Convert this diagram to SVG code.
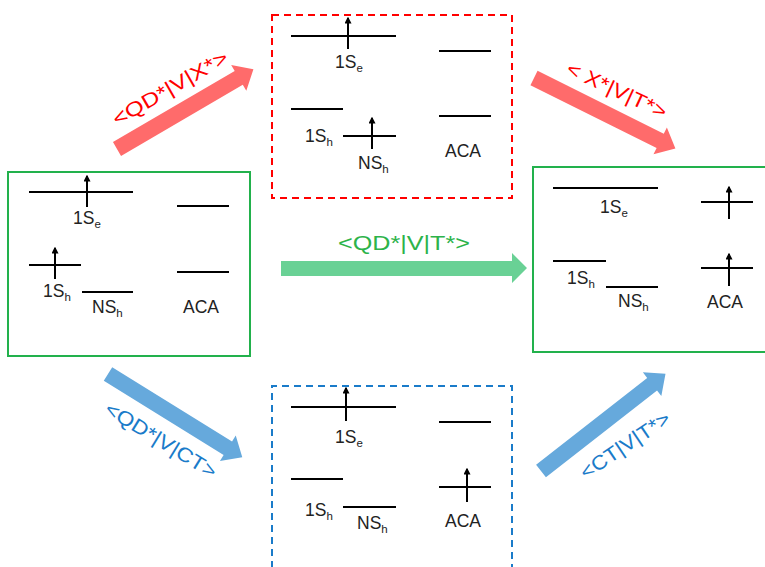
<svg xmlns="http://www.w3.org/2000/svg" width="765" height="567" viewBox="0 0 765 567">
<defs>
<style>
.lvl{stroke:#000;stroke-width:2;fill:none}
.spin{stroke:#000;stroke-width:2;fill:none;marker-end:url(#tip)}
.lab{font-family:"Liberation Sans",Arial,sans-serif;font-size:17.5px;fill:#222}
.sub{font-size:11.5px}
.arr{font-family:"Liberation Sans",Arial,sans-serif;font-size:20px}
.gbox{fill:none;stroke:#22b14c;stroke-width:2}
</style>
<marker id="tip" viewBox="0 0 10 10" refX="8" refY="5" markerWidth="7" markerHeight="7" orient="auto" markerUnits="userSpaceOnUse"><path d="M0,0 L10,5 L0,10 z" fill="#000"/></marker>
<path id="bigArrow" d="M0,-8 L141,-8 L141,-15 L158,0 L141,15 L141,8 L0,8 z"/>
</defs>
<rect width="765" height="567" fill="#fff"/>

<g id="connectors">
<use href="#bigArrow" fill="#ff6b6b" transform="translate(117,149) rotate(-30.3)"/>
<use href="#bigArrow" fill="#ff6b6b" transform="translate(534,78) rotate(26.5)"/>
<path d="M281,261 L512,261 L512,253 L527,268 L512,283 L512,276 L281,276 z" fill="#69d195"/>
<use href="#bigArrow" fill="#66a9dc" transform="translate(108,374) rotate(31.8)"/>
<use href="#bigArrow" fill="#66a9dc" transform="translate(541,471) rotate(-38)"/>
<text class="arr" fill="#ff0000" text-anchor="middle" x="170" y="95" textLength="130" lengthAdjust="spacingAndGlyphs" transform="rotate(-30 170 88)">&lt;QD*|V|X*&gt;</text>
<text class="arr" fill="#ff0000" text-anchor="middle" x="617" y="97" textLength="108" lengthAdjust="spacingAndGlyphs" transform="rotate(25 617 90)">&lt; X*|V|T*&gt;</text>
<text class="arr" fill="#2db34a" text-anchor="middle" x="404" y="250" textLength="132" lengthAdjust="spacingAndGlyphs">&lt;QD*|V|T*&gt;</text>
<text class="arr" fill="#1a7bc9" text-anchor="middle" x="161" y="447" textLength="127" lengthAdjust="spacingAndGlyphs" transform="rotate(31.5 161 440)">&lt;QD*|V|CT&gt;</text>
<text class="arr" fill="#1a7bc9" text-anchor="middle" x="625" y="452" textLength="104" lengthAdjust="spacingAndGlyphs" transform="rotate(-34 625 445)">&lt;CT|V|T*&gt;</text>
</g>

<g id="state-left">
<rect class="gbox" x="8" y="172" width="242" height="184"/>
<line class="lvl" x1="29" y1="192" x2="133" y2="192"/>
<line class="spin" x1="87" y1="207" x2="87" y2="176"/>
<text class="lab" x="73" y="224">1S<tspan class="sub" dy="4">e</tspan></text>
<line class="lvl" x1="177" y1="206" x2="229" y2="206"/>
<line class="lvl" x1="29" y1="265" x2="81" y2="265"/>
<line class="spin" x1="55" y1="279" x2="55" y2="248"/>
<text class="lab" x="43" y="297">1S<tspan class="sub" dy="4">h</tspan></text>
<line class="lvl" x1="82" y1="292" x2="133" y2="292"/>
<text class="lab" x="92" y="313">NS<tspan class="sub" dy="4">h</tspan></text>
<line class="lvl" x1="177" y1="272" x2="229" y2="272"/>
<text class="lab" x="183" y="313">ACA</text>
</g>

<g id="state-top">
<rect x="272" y="15" width="240" height="183" fill="none" stroke="#ff0000" stroke-width="2" stroke-dasharray="7,5"/>
<line class="lvl" x1="291" y1="36" x2="396" y2="36"/>
<line class="spin" x1="348" y1="49" x2="348" y2="18"/>
<text class="lab" x="335" y="68">1S<tspan class="sub" dy="4">e</tspan></text>
<line class="lvl" x1="439" y1="51" x2="491" y2="51"/>
<line class="lvl" x1="291" y1="109" x2="343" y2="109"/>
<text class="lab" x="305" y="142">1S<tspan class="sub" dy="4">h</tspan></text>
<line class="lvl" x1="343" y1="136" x2="396" y2="136"/>
<line class="spin" x1="372" y1="149" x2="372" y2="118"/>
<text class="lab" x="358" y="169">NS<tspan class="sub" dy="4">h</tspan></text>
<line class="lvl" x1="439" y1="116" x2="491" y2="116"/>
<text class="lab" x="445" y="157">ACA</text>
</g>

<g id="state-right">
<rect class="gbox" x="533" y="167" width="240" height="185"/>
<line class="lvl" x1="553" y1="188" x2="658" y2="188"/>
<text class="lab" x="600" y="213">1S<tspan class="sub" dy="4">e</tspan></text>
<line class="lvl" x1="701" y1="202" x2="753" y2="202"/>
<line class="spin" x1="729" y1="219" x2="729" y2="187"/>
<line class="lvl" x1="553" y1="261" x2="606" y2="261"/>
<text class="lab" x="567" y="284">1S<tspan class="sub" dy="4">h</tspan></text>
<line class="lvl" x1="606" y1="287" x2="658" y2="287"/>
<text class="lab" x="618" y="307">NS<tspan class="sub" dy="4">h</tspan></text>
<line class="lvl" x1="701" y1="268" x2="753" y2="268"/>
<line class="spin" x1="729" y1="286" x2="729" y2="254"/>
<text class="lab" x="707" y="308">ACA</text>
</g>

<g id="state-bottom">
<path d="M272,580 L272,386 L512,386 L512,580" fill="none" stroke="#1a7bc9" stroke-width="2" stroke-dasharray="7,5"/>
<line class="lvl" x1="291" y1="407" x2="396" y2="407"/>
<line class="spin" x1="346" y1="421" x2="346" y2="388"/>
<text class="lab" x="335" y="443">1S<tspan class="sub" dy="4">e</tspan></text>
<line class="lvl" x1="439" y1="422" x2="491" y2="422"/>
<line class="lvl" x1="291" y1="479" x2="343" y2="479"/>
<text class="lab" x="305" y="516">1S<tspan class="sub" dy="4">h</tspan></text>
<line class="lvl" x1="343" y1="507" x2="396" y2="507"/>
<text class="lab" x="357" y="529">NS<tspan class="sub" dy="4">h</tspan></text>
<line class="lvl" x1="439" y1="487" x2="491" y2="487"/>
<line class="spin" x1="467" y1="502" x2="467" y2="469"/>
<text class="lab" x="445" y="527">ACA</text>
</g>
</svg>
